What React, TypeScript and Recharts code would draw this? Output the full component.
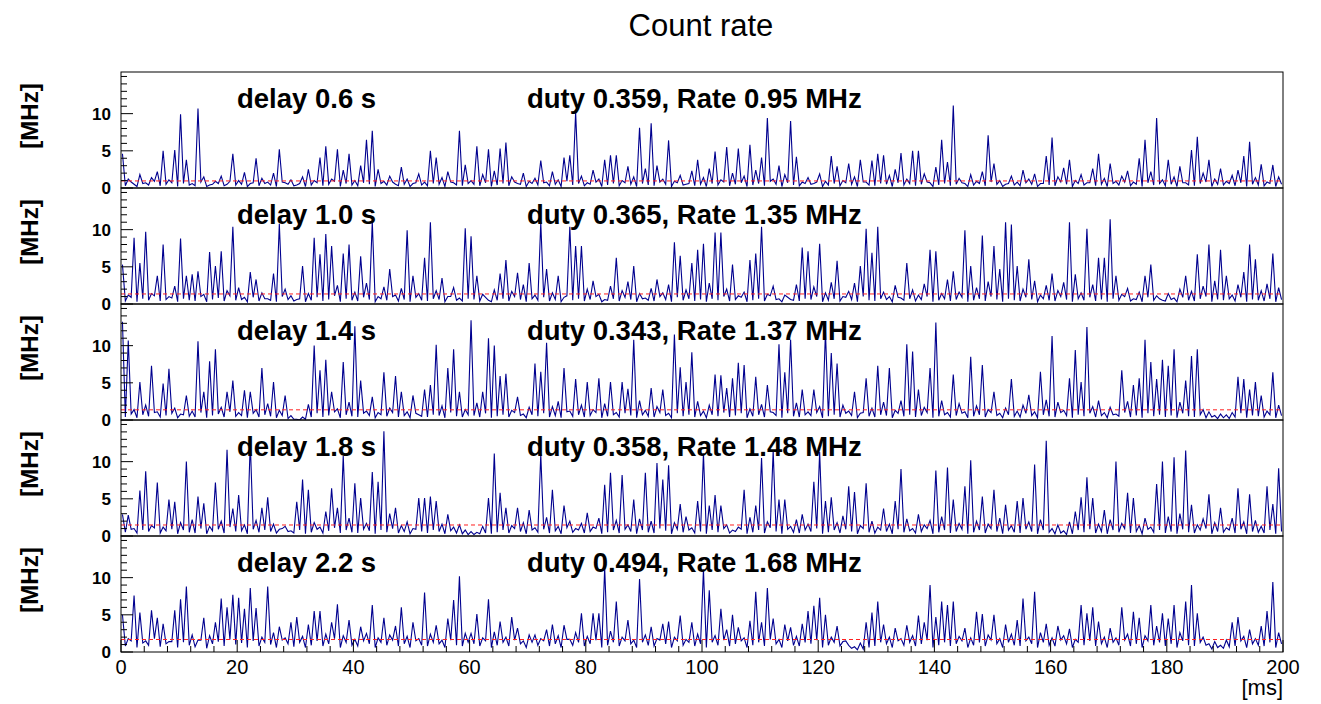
// Count rate: five stacked panels (one per delay), ROOT-style look rebuilt with Recharts.

import { LineChart, Line, XAxis, YAxis, ReferenceLine } from "recharts";

// ─── Data (1 ms bins, 0–200 ms, values in MHz) ───────────────────────────────

const DELAYS = ["0.6", "1.0", "1.4", "1.8", "2.2"];
const DUTY = ["0.359", "0.365", "0.343", "0.358", "0.494"];
const RATE = [0.95, 1.35, 1.37, 1.48, 1.68];

// peak value seen in each 1 ms bin
const RATE_06 = [
  4.6, 1.2, 0.5, 1.8, 0.7, 1.4, 2.2, 5.0, 1.1, 5.1, 9.9, 3.8, 0.6, 10.7, 1.5, 0.4, 0.9, 1.6, 0.5, 4.6,
  1.0, 2.1, 0.6, 4.0, 1.3, 0.8, 2.0, 5.2, 0.7, 1.1, 0.4, 1.5, 2.5, 1.0, 4.1, 5.6, 1.2, 5.2, 2.4, 4.6,
  1.0, 3.0, 6.5, 7.7, 2.5, 0.9, 1.6, 0.5, 2.8, 1.2, 0.6, 1.9, 0.8, 5.0, 4.1, 1.4, 2.2, 0.7, 7.7, 3.1,
  1.0, 5.6, 1.8, 5.2, 2.3, 5.3, 6.1, 1.5, 0.6, 2.0, 0.9, 1.3, 3.7, 0.8, 2.2, 1.1, 4.1, 4.4, 10.2, 1.6,
  0.7, 2.4, 1.2, 3.8, 4.4, 4.4, 1.0, 2.9, 1.5, 8.1, 2.6, 8.7, 3.0, 1.2, 6.4, 0.9, 1.7, 0.5, 2.3, 3.8,
  1.4, 2.6, 4.9, 1.1, 5.5, 2.0, 5.3, 1.6, 5.8, 2.4, 4.1, 9.4, 1.2, 3.0, 1.8, 9.0, 4.2, 0.8, 1.4, 0.6,
  1.9, 0.9, 4.3, 2.9, 1.0, 3.3, 1.5, 3.8, 0.8, 3.7, 4.6, 4.4, 1.7, 2.5, 4.7, 1.2, 5.0, 5.0, 1.9, 0.7,
  2.8, 6.5, 3.5, 11.1, 1.3, 0.6, 1.8, 0.9, 2.2, 7.1, 3.3, 1.0, 0.5, 1.6, 0.8, 2.4, 1.2, 1.9, 0.6, 4.3,
  6.8, 1.5, 2.7, 3.8, 1.0, 1.8, 0.7, 2.6, 4.6, 1.3, 3.3, 0.9, 1.6, 2.3, 0.8, 4.0, 6.5, 2.2, 9.4, 1.1,
  3.8, 1.5, 2.9, 0.7, 5.1, 6.9, 2.0, 3.8, 1.2, 2.6, 0.9, 1.7, 2.4, 4.3, 6.2, 1.4, 3.2, 0.8, 3.1, 1.5,
];

const RATE_10 = [
  5.3, 1.2, 8.9, 5.5, 9.7, 1.4, 3.8, 8.0, 1.0, 2.4, 8.8, 3.8, 4.0, 4.4, 1.3, 7.0, 5.1, 7.1, 1.8, 10.4,
  2.2, 0.9, 4.3, 3.3, 1.5, 0.7, 4.1, 10.8, 2.0, 1.1, 0.6, 5.1, 1.4, 8.9, 6.7, 9.4, 7.8, 2.5, 6.8, 8.0,
  1.6, 6.4, 2.8, 11.1, 1.0, 2.3, 4.7, 1.2, 2.1, 9.9, 3.8, 1.4, 6.2, 11.0, 1.8, 3.5, 1.0, 2.2, 0.8, 10.2,
  9.1, 3.8, 1.3, 0.5, 1.9, 4.1, 5.9, 1.7, 4.2, 2.6, 5.5, 1.2, 11.0, 4.7, 1.5, 3.8, 0.9, 10.4, 7.8, 7.8,
  2.0, 3.1, 1.3, 0.6, 2.4, 6.2, 1.8, 3.0, 5.1, 1.4, 0.8, 2.1, 3.3, 1.5, 2.6, 8.3, 6.5, 1.9, 5.5, 7.3,
  8.1, 2.8, 9.6, 9.6, 2.0, 5.3, 1.1, 1.6, 5.9, 6.8, 10.4, 1.3, 2.4, 0.7, 1.2, 0.6, 2.6, 7.6, 7.1, 2.3,
  8.1, 1.5, 2.9, 5.8, 1.0, 1.7, 2.8, 5.1, 10.1, 6.9, 10.4, 1.6, 1.0, 2.5, 0.8, 5.5, 1.9, 1.2, 2.7, 7.3,
  7.1, 1.4, 3.3, 4.4, 1.6, 9.9, 5.1, 2.2, 9.2, 3.0, 7.8, 4.7, 11.0, 10.7, 5.1, 2.0, 6.0, 3.1, 1.2, 2.5,
  4.1, 1.8, 2.9, 11.0, 4.0, 1.5, 10.1, 2.6, 6.2, 6.2, 11.4, 3.8, 1.3, 2.1, 0.7, 1.6, 3.8, 5.3, 1.1, 0.5,
  1.4, 0.8, 2.0, 3.8, 1.7, 6.7, 2.4, 8.0, 3.1, 7.3, 3.8, 1.2, 2.6, 4.3, 8.0, 6.0, 1.8, 2.7, 6.8, 2.2,
];

const RATE_14 = [
  13.2, 10.7, 1.4, 5.1, 2.0, 7.3, 1.1, 4.9, 6.9, 1.6, 0.8, 3.3, 1.2, 10.6, 3.8, 7.9, 9.5, 1.7, 3.8, 5.3,
  1.0, 4.0, 3.8, 1.4, 7.0, 2.2, 5.1, 1.3, 3.3, 0.6, 0.1, 0.4, 2.1, 10.0, 6.7, 8.1, 3.8, 1.5, 7.8, 2.4,
  12.6, 5.3, 1.2, 3.1, 1.0, 6.4, 1.6, 5.9, 3.8, 1.1, 3.3, 0.7, 4.1, 4.7, 10.1, 1.9, 7.0, 9.5, 3.8, 1.4,
  13.4, 2.3, 3.8, 11.0, 10.0, 5.9, 6.2, 1.3, 3.1, 0.8, 1.7, 7.6, 6.5, 10.4, 1.8, 2.5, 7.0, 1.2, 5.5, 2.0,
  5.1, 1.4, 5.6, 2.2, 5.1, 1.0, 5.1, 4.2, 10.8, 2.6, 1.3, 4.3, 1.8, 4.1, 0.9, 11.5, 7.1, 5.1, 9.1, 2.5,
  1.2, 2.0, 6.1, 6.0, 4.3, 5.6, 7.7, 7.4, 1.5, 5.8, 2.1, 4.7, 1.0, 10.2, 6.4, 10.8, 2.3, 4.1, 1.1, 4.1,
  1.8, 11.9, 9.0, 7.6, 2.0, 1.2, 3.8, 0.9, 5.6, 1.6, 7.3, 2.4, 7.0, 1.3, 2.6, 10.2, 9.2, 4.1, 1.7, 7.0,
  13.1, 2.6, 1.0, 6.1, 2.2, 1.1, 8.5, 1.9, 7.4, 1.4, 3.8, 0.9, 1.6, 5.5, 1.2, 2.0, 3.4, 1.1, 6.5, 2.7,
  11.3, 2.4, 1.3, 5.6, 9.4, 5.1, 12.5, 1.8, 2.6, 1.0, 1.7, 0.8, 6.7, 2.5, 4.7, 5.6, 10.8, 7.8, 5.5, 8.1,
  7.3, 9.5, 2.4, 5.3, 8.6, 9.5, 1.4, 1.1, 0.6, 0.8, 0.7, 1.0, 5.8, 5.5, 4.1, 5.1, 3.3, 1.2, 6.4, 2.0,
];

const RATE_18 = [
  2.9, 2.8, 1.0, 6.1, 8.7, 1.4, 7.2, 1.2, 4.9, 4.6, 1.8, 10.0, 2.2, 5.3, 4.4, 1.3, 7.2, 2.0, 11.6, 3.7,
  5.5, 1.5, 12.6, 2.1, 3.8, 5.2, 1.6, 0.9, 1.3, 0.7, 4.6, 7.6, 6.2, 1.8, 1.2, 3.3, 6.4, 3.8, 10.8, 2.4,
  7.1, 5.1, 1.7, 8.6, 7.3, 14.1, 3.0, 3.8, 1.4, 1.9, 1.0, 5.1, 5.1, 5.3, 4.7, 1.6, 2.9, 1.2, 1.5, 0.8,
  0.6, 0.5, 1.3, 5.1, 11.1, 5.8, 3.8, 1.4, 3.8, 1.8, 3.5, 1.1, 11.0, 2.5, 6.2, 1.3, 4.1, 2.0, 1.0, 1.7,
  3.1, 1.2, 2.4, 6.9, 8.5, 2.1, 8.2, 1.5, 4.9, 2.3, 8.5, 2.0, 9.8, 7.6, 9.5, 1.8, 4.3, 2.6, 1.1, 4.7,
  11.1, 4.1, 5.5, 4.1, 1.5, 0.8, 1.2, 6.2, 2.5, 4.1, 10.5, 1.9, 11.5, 4.9, 4.9, 1.3, 2.2, 2.9, 1.6, 7.3,
  11.3, 4.7, 5.2, 1.8, 2.7, 6.7, 5.9, 1.4, 7.1, 2.0, 1.2, 3.7, 1.6, 4.7, 9.0, 2.3, 1.0, 2.9, 1.5, 2.1,
  8.8, 2.6, 9.2, 4.9, 1.7, 6.7, 10.2, 2.0, 5.3, 1.6, 6.2, 2.4, 4.2, 1.4, 4.7, 5.1, 1.9, 9.6, 2.2, 12.8,
  1.0, 1.5, 0.7, 1.9, 3.3, 5.2, 7.9, 5.1, 1.6, 3.5, 2.2, 10.0, 1.7, 5.8, 5.1, 1.4, 2.4, 1.2, 7.0, 10.0,
  2.6, 10.6, 3.0, 11.5, 4.2, 1.5, 2.3, 5.6, 1.8, 3.8, 1.1, 2.4, 6.4, 1.9, 5.6, 2.1, 1.3, 6.7, 4.3, 9.1,
];

const RATE_22 = [
  5.0, 1.8, 7.6, 5.3, 1.5, 5.6, 4.6, 3.8, 1.4, 5.6, 7.1, 8.8, 2.3, 1.6, 4.6, 2.2, 4.0, 7.2, 6.0, 7.7,
  7.3, 5.8, 8.6, 5.9, 2.0, 8.8, 2.6, 3.4, 1.9, 4.0, 4.7, 2.1, 3.7, 5.5, 5.5, 2.4, 4.0, 6.4, 2.2, 4.3,
  1.7, 3.4, 2.5, 6.3, 1.9, 4.6, 2.3, 3.5, 6.0, 2.1, 4.0, 1.8, 8.0, 2.4, 3.6, 1.6, 4.5, 7.0, 10.2, 2.5,
  2.5, 5.1, 1.9, 7.1, 2.7, 4.1, 2.0, 4.7, 3.2, 1.5, 2.3, 2.3, 1.8, 3.0, 3.7, 2.2, 3.6, 1.7, 2.6, 5.2,
  2.1, 5.2, 5.2, 11.3, 2.8, 6.8, 2.0, 4.3, 1.6, 9.8, 2.3, 3.4, 1.8, 3.8, 4.1, 2.0, 4.9, 1.7, 4.0, 2.4,
  11.1, 8.3, 2.2, 5.8, 3.0, 5.0, 3.3, 1.9, 4.2, 8.1, 4.0, 8.6, 4.5, 1.7, 3.7, 3.3, 2.1, 3.8, 5.5, 6.2,
  7.3, 5.0, 2.0, 3.5, 1.4, 0.9, 0.7, 1.2, 4.0, 5.3, 6.8, 3.7, 2.0, 3.2, 1.8, 3.6, 2.2, 4.9, 4.0, 9.0,
  4.7, 6.8, 6.3, 6.8, 2.1, 3.2, 1.9, 5.4, 5.1, 2.3, 5.0, 1.8, 3.7, 2.4, 4.3, 7.2, 2.0, 8.1, 2.6, 3.8,
  1.9, 3.5, 2.2, 3.1, 1.7, 6.3, 5.2, 6.0, 4.1, 2.0, 3.2, 1.9, 6.0, 2.4, 5.4, 4.6, 2.2, 6.3, 3.5, 5.2,
  4.5, 6.3, 2.6, 6.8, 9.0, 5.2, 2.0, 1.1, 1.4, 0.9, 1.6, 4.0, 4.7, 2.1, 3.0, 1.8, 3.5, 5.5, 9.4, 2.6,
];

// floor level the trace drops back to between spikes, second half of each bin
const FLOOR_06 = [
  0.3, 0.8, 0.2, 0.6, 0.4, 0.9, 0.3, 0.5, 0.7, 0.2, 0.6, 0.4, 0.3, 0.8, 0.2, 0.5, 0.6, 0.3, 0.9, 0.4,
  0.5, 0.2, 0.7, 0.3, 0.6, 0.4, 0.2, 0.8, 0.5, 0.3, 0.6, 0.2, 0.4, 0.7, 0.3, 0.5, 0.9, 0.2, 0.6, 0.4,
  0.3, 0.7, 0.5, 0.2, 0.6, 0.4, 0.8, 0.3, 0.5, 0.2, 0.7, 0.4, 0.3, 0.6, 0.5, 0.2, 0.8, 0.4, 0.3, 0.6,
  0.5, 0.3, 0.7, 0.2, 0.4, 0.6, 0.3, 0.8, 0.5, 0.2, 0.6, 0.4, 0.7, 0.3, 0.5, 0.2, 0.9, 0.4, 0.6, 0.3,
  0.5, 0.8, 0.2, 0.4, 0.6, 0.3, 0.7, 0.5, 0.2, 0.6, 0.4, 0.3, 0.8, 0.5, 0.2, 0.7, 0.4, 0.6, 0.3, 0.5,
  0.2, 0.6, 0.4, 0.8, 0.3, 0.5, 0.7, 0.2, 0.4, 0.6, 0.3, 0.9, 0.5, 0.2, 0.7, 0.4, 0.3, 0.6, 0.5, 0.8,
  0.2, 0.4, 0.6, 0.3, 0.7, 0.5, 0.2, 0.8, 0.4, 0.3, 0.6, 0.5, 0.2, 0.7, 0.4, 0.6, 0.3, 0.5, 0.8, 0.2,
  0.4, 0.6, 0.3, 0.5, 0.7, 0.2, 0.4, 0.6, 0.3, 0.8, 0.5, 0.2, 0.6, 0.4, 0.3, 0.7, 0.5, 0.2, 0.6, 0.4,
  0.3, 0.8, 0.5, 0.2, 0.6, 0.4, 0.7, 0.3, 0.5, 0.2, 0.6, 0.4, 0.8, 0.3, 0.5, 0.2, 0.7, 0.4, 0.6, 0.3,
  0.5, 0.2, 0.7, 0.4, 0.3, 0.6, 0.8, 0.2, 0.5, 0.4, 0.6, 0.3, 0.7, 0.2, 0.5, 0.4, 0.3, 0.6, 0.2, 0.5,
];

const FLOOR_10 = [
  0.4, 0.9, 0.3, 0.7, 0.5, 1.1, 0.4, 0.6, 0.8, 0.3, 0.7, 0.5, 0.4, 1.0, 0.3, 0.6, 0.8, 0.4, 1.1, 0.5,
  0.6, 0.3, 0.9, 0.4, 0.7, 0.5, 0.3, 1.0, 0.6, 0.4, 0.7, 0.3, 0.5, 0.9, 0.4, 0.6, 1.1, 0.3, 0.7, 0.5,
  0.4, 0.9, 0.6, 0.3, 0.7, 0.5, 1.0, 0.4, 0.6, 0.3, 0.9, 0.5, 0.4, 0.7, 0.6, 0.3, 1.0, 0.5, 0.4, 0.7,
  0.6, 0.4, 0.9, 0.3, 0.5, 0.7, 0.4, 1.0, 0.6, 0.3, 0.7, 0.5, 0.9, 0.4, 0.6, 0.3, 1.1, 0.5, 0.7, 0.4,
  0.6, 1.0, 0.3, 0.5, 0.7, 0.4, 0.9, 0.6, 0.3, 0.7, 0.5, 0.4, 1.0, 0.6, 0.3, 0.9, 0.5, 0.7, 0.4, 0.6,
  0.3, 0.7, 0.5, 1.0, 0.4, 0.6, 0.9, 0.3, 0.5, 0.7, 0.4, 1.1, 0.6, 0.3, 0.9, 0.5, 0.4, 0.7, 0.6, 1.0,
  0.3, 0.5, 0.7, 0.4, 0.9, 0.6, 0.3, 1.0, 0.5, 0.4, 0.7, 0.6, 0.3, 0.9, 0.5, 0.7, 0.4, 0.6, 1.0, 0.3,
  0.5, 0.7, 0.4, 0.6, 0.9, 0.3, 0.5, 0.7, 0.4, 1.0, 0.6, 0.3, 0.7, 0.5, 0.4, 0.9, 0.6, 0.3, 0.7, 0.5,
  0.4, 1.0, 0.6, 0.3, 0.7, 0.5, 0.9, 0.4, 0.6, 0.3, 0.7, 0.5, 1.0, 0.4, 0.6, 0.3, 0.9, 0.5, 0.7, 0.4,
  0.6, 0.3, 0.9, 0.5, 0.4, 0.7, 1.0, 0.3, 0.6, 0.5, 0.7, 0.4, 0.9, 0.3, 0.6, 0.5, 0.4, 0.7, 0.3, 0.6,
];

const FLOOR_14 = [
  0.4, 0.8, 0.3, 0.7, 0.5, 1.0, 0.4, 0.6, 0.9, 0.3, 0.7, 0.5, 0.4, 1.0, 0.3, 0.6, 0.8, 0.4, 1.1, 0.5,
  0.6, 0.3, 0.9, 0.4, 0.7, 0.5, 0.3, 0.6, 0.2, 0.1, 0.0, 0.1, 0.4, 0.9, 0.4, 0.6, 1.1, 0.3, 0.7, 0.5,
  0.4, 0.9, 0.6, 0.3, 0.7, 0.5, 1.0, 0.4, 0.6, 0.3, 0.9, 0.5, 0.4, 0.7, 0.6, 0.3, 1.0, 0.5, 0.4, 0.7,
  0.6, 0.4, 0.9, 0.3, 0.5, 0.7, 0.4, 1.0, 0.6, 0.3, 0.7, 0.5, 0.9, 0.4, 0.6, 0.3, 1.1, 0.5, 0.7, 0.4,
  0.6, 1.0, 0.3, 0.5, 0.7, 0.4, 0.9, 0.6, 0.3, 0.7, 0.5, 0.4, 1.0, 0.6, 0.3, 0.9, 0.5, 0.7, 0.4, 0.6,
  0.3, 0.7, 0.5, 1.0, 0.4, 0.6, 0.9, 0.3, 0.5, 0.7, 0.4, 1.1, 0.6, 0.3, 0.9, 0.5, 0.4, 0.7, 0.6, 1.0,
  0.3, 0.5, 0.7, 0.4, 0.9, 0.6, 0.3, 1.0, 0.5, 0.4, 0.7, 0.6, 0.3, 0.9, 0.5, 0.7, 0.4, 0.6, 1.0, 0.3,
  0.5, 0.7, 0.4, 0.6, 0.9, 0.3, 0.5, 0.7, 0.4, 1.0, 0.6, 0.3, 0.7, 0.5, 0.4, 0.9, 0.6, 0.3, 0.7, 0.5,
  0.4, 1.0, 0.6, 0.3, 0.7, 0.5, 0.9, 0.4, 0.6, 0.3, 0.7, 0.5, 1.0, 0.4, 0.6, 0.3, 0.9, 0.5, 0.7, 0.4,
  0.6, 0.3, 0.9, 0.5, 0.4, 0.7, 0.3, 0.4, 0.2, 0.3, 0.2, 0.4, 0.9, 0.3, 0.6, 0.5, 0.4, 0.7, 0.3, 0.6,
];

const FLOOR_18 = [
  0.5, 0.9, 0.4, 0.8, 0.6, 1.1, 0.4, 0.7, 0.9, 0.3, 0.8, 0.5, 0.4, 1.0, 0.3, 0.7, 0.9, 0.4, 1.2, 0.6,
  0.7, 0.3, 0.9, 0.5, 0.8, 0.6, 0.4, 1.0, 0.6, 0.4, 0.8, 0.3, 0.5, 0.9, 0.4, 0.7, 1.1, 0.4, 0.8, 0.5,
  0.4, 0.9, 0.7, 0.3, 0.8, 0.5, 1.0, 0.4, 0.6, 0.3, 0.9, 0.6, 0.4, 0.8, 0.6, 0.3, 0.7, 0.4, 0.3, 0.2,
  0.2, 0.3, 0.4, 0.3, 0.5, 0.8, 0.4, 1.0, 0.6, 0.3, 0.8, 0.5, 0.9, 0.4, 0.7, 0.3, 1.1, 0.5, 0.8, 0.4,
  0.6, 1.0, 0.3, 0.5, 0.8, 0.4, 0.9, 0.6, 0.3, 0.8, 0.5, 0.4, 1.0, 0.7, 0.3, 0.9, 0.5, 0.8, 0.4, 0.6,
  0.3, 0.8, 0.5, 1.0, 0.4, 0.6, 0.9, 0.3, 0.5, 0.8, 0.4, 1.1, 0.6, 0.3, 0.9, 0.5, 0.4, 0.8, 0.6, 1.0,
  0.3, 0.5, 0.8, 0.4, 0.9, 0.6, 0.3, 1.0, 0.5, 0.4, 0.8, 0.6, 0.3, 0.9, 0.5, 0.7, 0.4, 0.6, 1.0, 0.3,
  0.5, 0.8, 0.4, 0.6, 0.9, 0.3, 0.5, 0.8, 0.4, 1.0, 0.6, 0.3, 0.8, 0.5, 0.4, 0.9, 0.6, 0.3, 0.8, 0.5,
  0.3, 0.4, 0.2, 0.3, 0.8, 0.5, 0.9, 0.4, 0.6, 0.3, 0.8, 0.5, 1.0, 0.4, 0.6, 0.3, 0.9, 0.5, 0.8, 0.4,
  0.6, 0.3, 0.9, 0.5, 0.4, 0.8, 1.0, 0.3, 0.6, 0.5, 0.8, 0.4, 0.9, 0.3, 0.6, 0.5, 0.4, 0.8, 0.3, 0.6,
];

const FLOOR_22 = [
  0.8, 1.5, 0.6, 1.2, 0.9, 1.8, 0.7, 1.1, 1.4, 0.6, 1.3, 0.9, 0.7, 1.6, 0.5, 1.1, 1.4, 0.8, 1.7, 1.0,
  1.2, 0.6, 1.5, 0.8, 1.3, 1.0, 0.6, 1.6, 1.1, 0.7, 1.3, 0.6, 0.9, 1.5, 0.8, 1.1, 1.8, 0.6, 1.3, 0.9,
  0.8, 1.5, 1.1, 0.6, 1.3, 0.9, 1.6, 0.8, 1.1, 0.6, 1.5, 0.9, 0.8, 1.3, 1.1, 0.6, 1.6, 0.9, 0.8, 1.3,
  1.1, 0.8, 1.5, 0.6, 0.9, 1.3, 0.8, 1.6, 1.1, 0.6, 1.3, 0.9, 1.5, 0.8, 1.1, 0.6, 1.7, 0.9, 1.3, 0.8,
  1.1, 1.6, 0.6, 0.9, 1.3, 0.8, 1.5, 1.1, 0.6, 1.3, 0.9, 0.8, 1.6, 1.1, 0.6, 1.5, 0.9, 1.3, 0.8, 1.1,
  0.6, 1.3, 0.9, 1.6, 0.8, 1.1, 1.5, 0.6, 0.9, 1.3, 0.8, 1.7, 1.1, 0.6, 1.5, 0.9, 0.8, 1.3, 1.1, 1.6,
  0.6, 0.9, 1.3, 0.8, 1.5, 0.5, 0.3, 0.4, 0.6, 0.8, 1.3, 1.1, 0.6, 1.5, 0.9, 1.3, 0.8, 1.1, 1.6, 0.6,
  0.9, 1.3, 0.8, 1.1, 1.5, 0.6, 0.9, 1.3, 0.8, 1.6, 1.1, 0.6, 1.3, 0.9, 0.8, 1.5, 1.1, 0.6, 1.3, 0.9,
  0.8, 1.6, 1.1, 0.6, 1.3, 0.9, 1.5, 0.8, 1.1, 0.6, 1.3, 0.9, 1.6, 0.8, 1.1, 0.6, 1.5, 0.9, 1.3, 0.8,
  1.1, 0.6, 1.5, 0.9, 0.8, 1.3, 0.9, 0.4, 0.6, 0.5, 0.7, 0.8, 1.5, 0.6, 1.1, 0.9, 0.8, 1.3, 0.6, 1.1,
];

const SERIES = [RATE_06, RATE_10, RATE_14, RATE_18, RATE_22];
const FLOORS = [FLOOR_06, FLOOR_10, FLOOR_14, FLOOR_18, FLOOR_22];

const Y_TICKS = [0, 1, 2, 3, 4, 5, 6, 7, 8, 9, 10, 11, 12, 13, 14, 15];
const Y_LABELS = [0, 5, 10];
const X_TICKS = [
  0, 4, 8, 12, 16, 20, 24, 28, 32, 36, 40, 44, 48, 52, 56, 60, 64, 68, 72, 76, 80,
  84, 88, 92, 96, 100, 104, 108, 112, 116, 120, 124, 128, 132, 136, 140, 144, 148,
  152, 156, 160, 164, 168, 172, 176, 180, 184, 188, 192, 196, 200,
];

// ─── Layout ──────────────────────────────────────────────────────────────────

const W = 1321;
const PLOT_L = 121;
const PLOT_R = 1283;
const TOP = 72;
const PANEL_H = 116;
const PAD_B = 14; // room under each panel so its "0" label is not clipped
const Y_MAX = 15.6;
const FONT = "'Liberation Sans', Arial, Helvetica, sans-serif";
const LINE_COLOR = "#00008f";

function YTick(props: any) {
  const { y, payload } = props;
  const v = payload.value as number;
  const labelled = Y_LABELS.includes(v);
  return (
    <g>
      <line x1={PLOT_L} x2={PLOT_L + (labelled ? 12 : 6)} y1={y} y2={y} stroke="#000" strokeWidth={1} />
      {labelled && (
        <text x={111} y={y} dy={6} textAnchor="end" fontSize={17} fontWeight="bold" fontFamily={FONT} fill="#000">
          {v}
        </text>
      )}
    </g>
  );
}

function XTick(props: any) {
  const { x, payload } = props;
  const v = payload.value as number;
  const major = v % 20 === 0;
  return (
    <g>
      <line x1={x} x2={x} y1={PANEL_H} y2={PANEL_H - (major ? 12 : 6)} stroke="#000" strokeWidth={1} />
      {major && (
        <text x={x} y={PANEL_H + 22} textAnchor="middle" fontSize={20} fontFamily={FONT} fill="#000">
          {v}
        </text>
      )}
    </g>
  );
}

function Panel({ idx }: { idx: number }) {
  const peaks = SERIES[idx];
  const floors = FLOORS[idx];
  const data = peaks.flatMap((v, i) => [
    { t: i + 0.25, v },
    { t: i + 0.75, v: floors[i] ?? 0.5 },
  ]);
  const last = idx === SERIES.length - 1;
  return (
    <div style={{ position: "absolute", left: 0, top: TOP + idx * PANEL_H }}>
      <LineChart
        width={W}
        height={last ? PANEL_H + 40 : PANEL_H + PAD_B}
        data={data}
        margin={{ top: 0, right: W - PLOT_R, bottom: last ? 0 : PAD_B, left: 0 }}
      >
        <XAxis
          dataKey="t"
          type="number"
          domain={[0, 200]}
          ticks={X_TICKS}
          interval={0}
          hide={!last}
          height={last ? 40 : 0}
          axisLine={false}
          tickLine={false}
          tick={<XTick />}
        />
        <YAxis
          type="number"
          domain={[0, Y_MAX]}
          ticks={Y_TICKS}
          interval={0}
          width={PLOT_L}
          axisLine={false}
          tickLine={false}
          tick={<YTick />}
          allowDataOverflow
        />
        <Line
          type="linear"
          dataKey="v"
          stroke={LINE_COLOR}
          strokeWidth={1.1}
          dot={false}
          isAnimationActive={false}
        />
        <ReferenceLine y={RATE[idx]} stroke="#ff2020" strokeDasharray="4 3" strokeWidth={1} />
      </LineChart>
    </div>
  );
}

export default function App() {
  return (
    <div style={{ position: "absolute", left: 0, top: 0, width: W, height: 704, background: "#fff", fontFamily: FONT }}>
      {SERIES.map((_, i) => (
        <Panel key={i} idx={i} />
      ))}
      <svg width={W} height={704} style={{ position: "absolute", left: 0, top: 0, pointerEvents: "none" }}>
        <text x={701} y={36} textAnchor="middle" fontSize={31} fontFamily={FONT} fill="#000">
          Count rate
        </text>
        {SERIES.map((_, i) => {
          const top = TOP + i * PANEL_H;
          const cy = top + PANEL_H / 2 - 14;
          return (
            <g key={i}>
              <rect x={PLOT_L} y={top} width={PLOT_R - PLOT_L} height={PANEL_H} fill="none" stroke="#000" strokeWidth={1} />
              <text x={237} y={top + 36} fontSize={27.5} fontWeight="bold" fontFamily={FONT} fill="#000">
                {`delay ${DELAYS[i]} s`}
              </text>
              <text x={527} y={top + 36} fontSize={27.5} fontWeight="bold" fontFamily={FONT} fill="#000">
                {`duty ${DUTY[i]}, Rate ${RATE[i].toFixed(2)} MHz`}
              </text>
              <text
                x={0}
                y={0}
                transform={`translate(38, ${cy}) rotate(-90)`}
                textAnchor="middle"
                fontSize={24}
                fontWeight="bold"
                fontFamily={FONT}
                fill="#000"
              >
                [MHz]
              </text>
            </g>
          );
        })}
        <text x={PLOT_R} y={695} textAnchor="end" fontSize={22} fontFamily={FONT} fill="#000">
          [ms]
        </text>
      </svg>
    </div>
  );
}
